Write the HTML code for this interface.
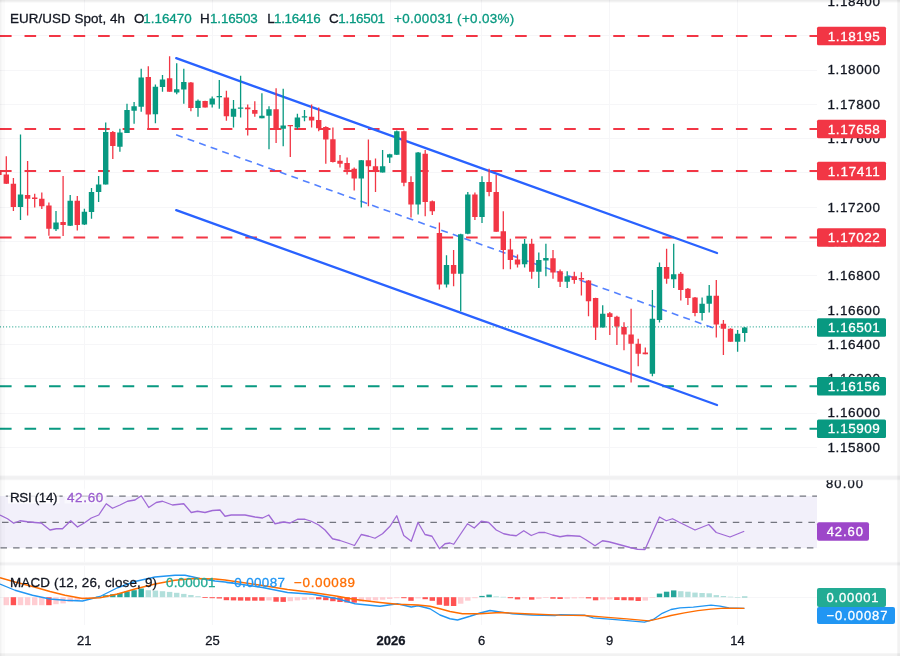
<!DOCTYPE html>
<html lang="en"><head><meta charset="utf-8"><title>EUR/USD Spot, 4h</title>
<style>html,body{margin:0;padding:0;background:#fff;}body{width:900px;height:656px;overflow:hidden;}svg{display:block;}text{font-family:"Liberation Sans", sans-serif;}</style>
</head><body>
<svg width="900" height="656" viewBox="0 0 900 656">
<rect x="0" y="0" width="900" height="656" fill="#ffffff"/>
<g stroke="#f6f6f8" stroke-width="1" shape-rendering="crispEdges">
<line x1="0" y1="35.7" x2="817" y2="35.7"/>
<line x1="0" y1="70" x2="817" y2="70"/>
<line x1="0" y1="104.3" x2="817" y2="104.3"/>
<line x1="0" y1="138.6" x2="817" y2="138.6"/>
<line x1="0" y1="172.9" x2="817" y2="172.9"/>
<line x1="0" y1="207.2" x2="817" y2="207.2"/>
<line x1="0" y1="241.5" x2="817" y2="241.5"/>
<line x1="0" y1="275.8" x2="817" y2="275.8"/>
<line x1="0" y1="310.1" x2="817" y2="310.1"/>
<line x1="0" y1="344.4" x2="817" y2="344.4"/>
<line x1="0" y1="378.7" x2="817" y2="378.7"/>
<line x1="0" y1="413" x2="817" y2="413"/>
<line x1="0" y1="447.3" x2="817" y2="447.3"/>
<line x1="84.5" y1="0" x2="84.5" y2="625"/>
<line x1="212.5" y1="0" x2="212.5" y2="625"/>
<line x1="390.5" y1="0" x2="390.5" y2="625"/>
<line x1="481.5" y1="0" x2="481.5" y2="625"/>
<line x1="609.5" y1="0" x2="609.5" y2="625"/>
<line x1="737.5" y1="0" x2="737.5" y2="625"/>
<line x1="0" y1="597.5" x2="817" y2="597.5"/>
</g>
<line x1="0" y1="36" x2="817" y2="36" stroke="#f23645" stroke-width="2.2" stroke-dasharray="11.6 12.93"/>
<line x1="0" y1="129" x2="817" y2="129" stroke="#f23645" stroke-width="2.2" stroke-dasharray="11.6 12.93"/>
<line x1="0" y1="171" x2="817" y2="171" stroke="#f23645" stroke-width="2.2" stroke-dasharray="11.6 12.93"/>
<line x1="0" y1="237.5" x2="817" y2="237.5" stroke="#f23645" stroke-width="2.2" stroke-dasharray="11.6 12.93"/>
<line x1="0" y1="386.25" x2="817" y2="386.25" stroke="#089981" stroke-width="2.2" stroke-dasharray="11.6 12.93"/>
<line x1="0" y1="428.75" x2="817" y2="428.75" stroke="#089981" stroke-width="2.2" stroke-dasharray="11.6 12.93"/>
<line x1="0" y1="326.9" x2="817" y2="326.9" stroke="#089981" stroke-width="1" stroke-dasharray="1 2.06"/>
<line x1="176.2" y1="58.2" x2="717" y2="253" stroke="#2962ff" stroke-width="2.3" stroke-linecap="round"/>
<line x1="176.2" y1="210.2" x2="717" y2="405" stroke="#2962ff" stroke-width="2.3" stroke-linecap="round"/>
<line x1="176.1" y1="134.8" x2="717" y2="329.3" stroke="#2962ff" stroke-width="1.6" stroke-dasharray="7 5.25" opacity="0.8"/>
<g>
<rect x="-3.4" y="171" width="5" height="4" fill="#f23645"/>
<rect x="5.65" y="156.25" width="1.3" height="27.75" fill="#f23645"/>
<rect x="3.6" y="174.5" width="5.4" height="9.25" fill="#f23645"/>
<rect x="12.75" y="178" width="1.3" height="33" fill="#f23645"/>
<rect x="10.7" y="183.75" width="5.4" height="23.25" fill="#f23645"/>
<rect x="19.85" y="134.5" width="1.3" height="85.5" fill="#089981"/>
<rect x="17.8" y="194.5" width="5.4" height="12.5" fill="#089981"/>
<rect x="26.95" y="161" width="1.3" height="54.5" fill="#f23645"/>
<rect x="24.9" y="195" width="5.4" height="3.75" fill="#f23645"/>
<rect x="34.05" y="193.75" width="1.3" height="13.75" fill="#f23645"/>
<rect x="32" y="197.5" width="5.4" height="1.5" fill="#f23645"/>
<rect x="41.15" y="192.5" width="1.3" height="16.5" fill="#f23645"/>
<rect x="39.1" y="198.75" width="5.4" height="7.5" fill="#f23645"/>
<rect x="48.25" y="202.5" width="1.3" height="33.25" fill="#f23645"/>
<rect x="46.2" y="205.5" width="5.4" height="23.25" fill="#f23645"/>
<rect x="55.35" y="211" width="1.3" height="20" fill="#089981"/>
<rect x="53.3" y="222.5" width="5.4" height="6.75" fill="#089981"/>
<rect x="62.45" y="176" width="1.3" height="60" fill="#f23645"/>
<rect x="60.4" y="222" width="5.4" height="3" fill="#f23645"/>
<rect x="69.55" y="195" width="1.3" height="31" fill="#089981"/>
<rect x="67.5" y="200.75" width="5.4" height="25" fill="#089981"/>
<rect x="76.65" y="196" width="1.3" height="34.5" fill="#f23645"/>
<rect x="74.6" y="200.75" width="5.4" height="24.25" fill="#f23645"/>
<rect x="83.75" y="208.75" width="1.3" height="16.25" fill="#089981"/>
<rect x="81.7" y="211.75" width="5.4" height="12.75" fill="#089981"/>
<rect x="90.85" y="188" width="1.3" height="30.75" fill="#089981"/>
<rect x="88.8" y="192" width="5.4" height="20" fill="#089981"/>
<rect x="97.95" y="176" width="1.3" height="26" fill="#089981"/>
<rect x="95.9" y="184.5" width="5.4" height="7.5" fill="#089981"/>
<rect x="105.05" y="122.5" width="1.3" height="62" fill="#089981"/>
<rect x="103" y="132" width="5.4" height="52.5" fill="#089981"/>
<rect x="112.15" y="131" width="1.3" height="28" fill="#f23645"/>
<rect x="110.1" y="132" width="5.4" height="14" fill="#f23645"/>
<rect x="119.25" y="128.75" width="1.3" height="23" fill="#089981"/>
<rect x="117.2" y="132.5" width="5.4" height="14.25" fill="#089981"/>
<rect x="126.35" y="103.75" width="1.3" height="29.25" fill="#089981"/>
<rect x="124.3" y="110" width="5.4" height="23" fill="#089981"/>
<rect x="133.45" y="102" width="1.3" height="21.75" fill="#089981"/>
<rect x="131.4" y="106.25" width="5.4" height="4.5" fill="#089981"/>
<rect x="140.55" y="68.75" width="1.3" height="43" fill="#089981"/>
<rect x="138.5" y="77.5" width="5.4" height="29.25" fill="#089981"/>
<rect x="147.65" y="66.25" width="1.3" height="63.75" fill="#f23645"/>
<rect x="145.6" y="77" width="5.4" height="37.5" fill="#f23645"/>
<rect x="154.75" y="84.5" width="1.3" height="38.75" fill="#089981"/>
<rect x="152.7" y="86.75" width="5.4" height="27.5" fill="#089981"/>
<rect x="161.85" y="75" width="1.3" height="16.75" fill="#089981"/>
<rect x="159.8" y="79.5" width="5.4" height="7.5" fill="#089981"/>
<rect x="168.95" y="56.25" width="1.3" height="35.5" fill="#f23645"/>
<rect x="166.9" y="78.25" width="5.4" height="13.5" fill="#f23645"/>
<rect x="176.05" y="63.25" width="1.3" height="31" fill="#089981"/>
<rect x="174" y="89.25" width="5.4" height="3.25" fill="#089981"/>
<rect x="183.15" y="68.75" width="1.3" height="35" fill="#089981"/>
<rect x="181.1" y="82" width="5.4" height="7.5" fill="#089981"/>
<rect x="190.25" y="82" width="1.3" height="29.25" fill="#f23645"/>
<rect x="188.2" y="82.5" width="5.4" height="25.5" fill="#f23645"/>
<rect x="197.35" y="99.5" width="1.3" height="17.25" fill="#089981"/>
<rect x="195.3" y="100.75" width="5.4" height="7.25" fill="#089981"/>
<rect x="204.45" y="100.75" width="1.3" height="6.75" fill="#f23645"/>
<rect x="202.4" y="101" width="5.4" height="6.5" fill="#f23645"/>
<rect x="211.55" y="96.5" width="1.3" height="11" fill="#089981"/>
<rect x="209.5" y="98.5" width="5.4" height="6" fill="#089981"/>
<rect x="218.65" y="80" width="1.3" height="28.75" fill="#089981"/>
<rect x="216.6" y="96" width="5.4" height="1.25" fill="#089981"/>
<rect x="225.75" y="90.75" width="1.3" height="30" fill="#f23645"/>
<rect x="223.7" y="97.5" width="5.4" height="18.75" fill="#f23645"/>
<rect x="232.85" y="100" width="1.3" height="27.5" fill="#089981"/>
<rect x="230.8" y="108.75" width="5.4" height="8" fill="#089981"/>
<rect x="239.95" y="75.75" width="1.3" height="41.75" fill="#089981"/>
<rect x="237.9" y="107.5" width="5.4" height="1.25" fill="#089981"/>
<rect x="247.05" y="104.5" width="1.3" height="31" fill="#f23645"/>
<rect x="245" y="107.5" width="5.4" height="1.75" fill="#f23645"/>
<rect x="254.15" y="101.25" width="1.3" height="15.5" fill="#f23645"/>
<rect x="252.1" y="110" width="5.4" height="3.75" fill="#f23645"/>
<rect x="261.25" y="93.25" width="1.3" height="25" fill="#089981"/>
<rect x="259.2" y="115.75" width="5.4" height="2.5" fill="#089981"/>
<rect x="268.35" y="106.25" width="1.3" height="43" fill="#089981"/>
<rect x="266.3" y="109.25" width="5.4" height="6.5" fill="#089981"/>
<rect x="275.45" y="88.25" width="1.3" height="54.75" fill="#f23645"/>
<rect x="273.4" y="109.25" width="5.4" height="19.5" fill="#f23645"/>
<rect x="282.55" y="88.75" width="1.3" height="57.5" fill="#089981"/>
<rect x="280.5" y="125.5" width="5.4" height="3.25" fill="#089981"/>
<rect x="289.65" y="125" width="1.3" height="32" fill="#f23645"/>
<rect x="287.6" y="125" width="5.4" height="1.25" fill="#f23645"/>
<rect x="296.75" y="113.75" width="1.3" height="15.5" fill="#089981"/>
<rect x="294.7" y="117.5" width="5.4" height="10" fill="#089981"/>
<rect x="303.85" y="110" width="1.3" height="11.25" fill="#089981"/>
<rect x="301.8" y="116.25" width="5.4" height="1.25" fill="#089981"/>
<rect x="310.95" y="104.5" width="1.3" height="23" fill="#f23645"/>
<rect x="308.9" y="116.75" width="5.4" height="3.75" fill="#f23645"/>
<rect x="318.05" y="107.5" width="1.3" height="23.75" fill="#f23645"/>
<rect x="316" y="120" width="5.4" height="8.25" fill="#f23645"/>
<rect x="325.15" y="126.25" width="1.3" height="37.5" fill="#f23645"/>
<rect x="323.1" y="127" width="5.4" height="12.5" fill="#f23645"/>
<rect x="332.25" y="127.5" width="1.3" height="35" fill="#f23645"/>
<rect x="330.2" y="139.25" width="5.4" height="22.75" fill="#f23645"/>
<rect x="339.35" y="155" width="1.3" height="12.5" fill="#f23645"/>
<rect x="337.3" y="160.75" width="5.4" height="3" fill="#f23645"/>
<rect x="346.45" y="157.5" width="1.3" height="17" fill="#f23645"/>
<rect x="344.4" y="163" width="5.4" height="6.75" fill="#f23645"/>
<rect x="353.55" y="167.5" width="1.3" height="23" fill="#f23645"/>
<rect x="351.5" y="168.75" width="5.4" height="9.75" fill="#f23645"/>
<rect x="360.65" y="160" width="1.3" height="47.5" fill="#089981"/>
<rect x="358.6" y="160.25" width="5.4" height="18.25" fill="#089981"/>
<rect x="367.75" y="139.5" width="1.3" height="66.75" fill="#f23645"/>
<rect x="365.7" y="160.25" width="5.4" height="6" fill="#f23645"/>
<rect x="374.85" y="158.5" width="1.3" height="33.5" fill="#f23645"/>
<rect x="372.8" y="166.25" width="5.4" height="5.5" fill="#f23645"/>
<rect x="381.95" y="150" width="1.3" height="22.5" fill="#089981"/>
<rect x="379.9" y="166.25" width="5.4" height="6.25" fill="#089981"/>
<rect x="389.05" y="153.75" width="1.3" height="9.25" fill="#089981"/>
<rect x="387" y="154.25" width="5.4" height="3.25" fill="#089981"/>
<rect x="396.15" y="130.5" width="1.3" height="24.5" fill="#089981"/>
<rect x="394.1" y="131.25" width="5.4" height="23.5" fill="#089981"/>
<rect x="403.25" y="130.5" width="1.3" height="55.75" fill="#f23645"/>
<rect x="401.2" y="131.25" width="5.4" height="51.5" fill="#f23645"/>
<rect x="410.35" y="176.25" width="1.3" height="41.25" fill="#f23645"/>
<rect x="408.3" y="182" width="5.4" height="22.5" fill="#f23645"/>
<rect x="417.45" y="152" width="1.3" height="62.5" fill="#089981"/>
<rect x="415.4" y="152.5" width="5.4" height="52" fill="#089981"/>
<rect x="424.55" y="150" width="1.3" height="66.25" fill="#f23645"/>
<rect x="422.5" y="153.75" width="5.4" height="48.25" fill="#f23645"/>
<rect x="431.65" y="200.5" width="1.3" height="14.5" fill="#f23645"/>
<rect x="429.6" y="201.25" width="5.4" height="10" fill="#f23645"/>
<rect x="438.75" y="222.5" width="1.3" height="67" fill="#f23645"/>
<rect x="436.7" y="233" width="5.4" height="51.5" fill="#f23645"/>
<rect x="445.85" y="255.25" width="1.3" height="32.25" fill="#089981"/>
<rect x="443.8" y="265" width="5.4" height="19.5" fill="#089981"/>
<rect x="452.95" y="250" width="1.3" height="36.25" fill="#f23645"/>
<rect x="450.9" y="265" width="5.4" height="8.75" fill="#f23645"/>
<rect x="460.05" y="233.75" width="1.3" height="77.5" fill="#089981"/>
<rect x="458" y="234.25" width="5.4" height="39.5" fill="#089981"/>
<rect x="467.15" y="192" width="1.3" height="42.25" fill="#089981"/>
<rect x="465.1" y="194.5" width="5.4" height="39.25" fill="#089981"/>
<rect x="474.25" y="192.5" width="1.3" height="27.5" fill="#f23645"/>
<rect x="472.2" y="194.5" width="5.4" height="22.5" fill="#f23645"/>
<rect x="481.35" y="176.25" width="1.3" height="46.75" fill="#089981"/>
<rect x="479.3" y="182" width="5.4" height="35" fill="#089981"/>
<rect x="488.45" y="168.75" width="1.3" height="27.5" fill="#f23645"/>
<rect x="486.4" y="182" width="5.4" height="10" fill="#f23645"/>
<rect x="495.55" y="175" width="1.3" height="56.75" fill="#f23645"/>
<rect x="493.5" y="192" width="5.4" height="39.75" fill="#f23645"/>
<rect x="502.65" y="211.25" width="1.3" height="58" fill="#f23645"/>
<rect x="500.6" y="231.25" width="5.4" height="18.75" fill="#f23645"/>
<rect x="509.75" y="238.75" width="1.3" height="30.5" fill="#f23645"/>
<rect x="507.7" y="249.5" width="5.4" height="10.5" fill="#f23645"/>
<rect x="516.85" y="254.5" width="1.3" height="13" fill="#f23645"/>
<rect x="514.8" y="259.5" width="5.4" height="5" fill="#f23645"/>
<rect x="523.95" y="239" width="1.3" height="28.5" fill="#089981"/>
<rect x="521.9" y="243.75" width="5.4" height="20.5" fill="#089981"/>
<rect x="531.05" y="238.75" width="1.3" height="40" fill="#f23645"/>
<rect x="529" y="243.75" width="5.4" height="28" fill="#f23645"/>
<rect x="538.15" y="252.5" width="1.3" height="35.5" fill="#089981"/>
<rect x="536.1" y="260" width="5.4" height="11.75" fill="#089981"/>
<rect x="545.25" y="243.75" width="1.3" height="32.5" fill="#089981"/>
<rect x="543.2" y="258" width="5.4" height="2.5" fill="#089981"/>
<rect x="552.35" y="250" width="1.3" height="28.75" fill="#f23645"/>
<rect x="550.3" y="258.25" width="5.4" height="14.25" fill="#f23645"/>
<rect x="559.45" y="269.5" width="1.3" height="17.5" fill="#f23645"/>
<rect x="557.4" y="271.25" width="5.4" height="10.5" fill="#f23645"/>
<rect x="566.55" y="271.25" width="1.3" height="16.75" fill="#089981"/>
<rect x="564.5" y="276.25" width="5.4" height="5.5" fill="#089981"/>
<rect x="573.65" y="271.75" width="1.3" height="12" fill="#f23645"/>
<rect x="571.6" y="276.25" width="5.4" height="3.75" fill="#f23645"/>
<rect x="580.75" y="272.25" width="1.3" height="23.25" fill="#f23645"/>
<rect x="578.7" y="278" width="5.4" height="1.5" fill="#f23645"/>
<rect x="587.85" y="280" width="1.3" height="36.25" fill="#f23645"/>
<rect x="585.8" y="280.5" width="5.4" height="20.75" fill="#f23645"/>
<rect x="594.95" y="297.75" width="1.3" height="42.25" fill="#f23645"/>
<rect x="592.9" y="298" width="5.4" height="29.5" fill="#f23645"/>
<rect x="602.05" y="305.25" width="1.3" height="22.25" fill="#089981"/>
<rect x="600" y="313.75" width="5.4" height="13.75" fill="#089981"/>
<rect x="609.15" y="312" width="1.3" height="23" fill="#f23645"/>
<rect x="607.1" y="313.25" width="5.4" height="3.75" fill="#f23645"/>
<rect x="616.25" y="315.75" width="1.3" height="29.25" fill="#f23645"/>
<rect x="614.2" y="316.75" width="5.4" height="9.75" fill="#f23645"/>
<rect x="623.35" y="322.25" width="1.3" height="28" fill="#f23645"/>
<rect x="621.3" y="327" width="5.4" height="7.5" fill="#f23645"/>
<rect x="630.45" y="308.75" width="1.3" height="73.75" fill="#f23645"/>
<rect x="628.4" y="334.5" width="5.4" height="9.25" fill="#f23645"/>
<rect x="637.55" y="338.75" width="1.3" height="27.5" fill="#f23645"/>
<rect x="635.5" y="343.75" width="5.4" height="10" fill="#f23645"/>
<rect x="644.65" y="347.5" width="1.3" height="6.75" fill="#f23645"/>
<rect x="642.6" y="352.5" width="5.4" height="1.75" fill="#f23645"/>
<rect x="651.75" y="290" width="1.3" height="86.25" fill="#089981"/>
<rect x="649.7" y="318.75" width="5.4" height="55" fill="#089981"/>
<rect x="658.85" y="262.5" width="1.3" height="60" fill="#089981"/>
<rect x="656.8" y="267" width="5.4" height="53" fill="#089981"/>
<rect x="665.95" y="248.75" width="1.3" height="35" fill="#f23645"/>
<rect x="663.9" y="267" width="5.4" height="11.75" fill="#f23645"/>
<rect x="673.05" y="243.75" width="1.3" height="44.25" fill="#089981"/>
<rect x="671" y="274.25" width="5.4" height="5" fill="#089981"/>
<rect x="680.15" y="272" width="1.3" height="28.5" fill="#f23645"/>
<rect x="678.1" y="273.75" width="5.4" height="16.25" fill="#f23645"/>
<rect x="687.25" y="288" width="1.3" height="17" fill="#f23645"/>
<rect x="685.2" y="288.75" width="5.4" height="9.25" fill="#f23645"/>
<rect x="694.35" y="297" width="1.3" height="19.25" fill="#f23645"/>
<rect x="692.3" y="297.5" width="5.4" height="15.5" fill="#f23645"/>
<rect x="701.45" y="297.5" width="1.3" height="23" fill="#089981"/>
<rect x="699.4" y="303.75" width="5.4" height="9.25" fill="#089981"/>
<rect x="708.55" y="285" width="1.3" height="27.5" fill="#089981"/>
<rect x="706.5" y="295.75" width="5.4" height="8" fill="#089981"/>
<rect x="715.65" y="280" width="1.3" height="57.5" fill="#f23645"/>
<rect x="713.6" y="295.75" width="5.4" height="28.75" fill="#f23645"/>
<rect x="722.75" y="320" width="1.3" height="35" fill="#f23645"/>
<rect x="720.7" y="323.75" width="5.4" height="5" fill="#f23645"/>
<rect x="729.85" y="328.25" width="1.3" height="13.5" fill="#f23645"/>
<rect x="727.8" y="328.75" width="5.4" height="13" fill="#f23645"/>
<rect x="736.95" y="330" width="1.3" height="21.75" fill="#089981"/>
<rect x="734.9" y="333.75" width="5.4" height="8" fill="#089981"/>
<rect x="744.05" y="327" width="1.3" height="14.75" fill="#089981"/>
<rect x="742" y="327.5" width="5.4" height="5.5" fill="#089981"/>
</g>
<text x="10" y="22.8" font-size="13.4" fill="#131722" stroke="#131722" stroke-width="0.3" textLength="115" lengthAdjust="spacing">EUR/USD Spot, 4h</text>
<text x="134" y="22.8" font-size="13.4" fill="#131722" stroke="#131722" stroke-width="0.3">O</text>
<text x="143.3" y="22.8" font-size="13.4" fill="#089981" stroke="#089981" stroke-width="0.3" textLength="48.4" lengthAdjust="spacing">1.16470</text>
<text x="200" y="22.8" font-size="13.4" fill="#131722" stroke="#131722" stroke-width="0.3">H</text>
<text x="210" y="22.8" font-size="13.4" fill="#089981" stroke="#089981" stroke-width="0.3" textLength="47.7" lengthAdjust="spacing">1.16503</text>
<text x="267.3" y="22.8" font-size="13.4" fill="#131722" stroke="#131722" stroke-width="0.3">L</text>
<text x="274" y="22.8" font-size="13.4" fill="#089981" stroke="#089981" stroke-width="0.3" textLength="46.7" lengthAdjust="spacing">1.16416</text>
<text x="329" y="22.8" font-size="13.4" fill="#131722" stroke="#131722" stroke-width="0.3">C</text>
<text x="338.3" y="22.8" font-size="13.4" fill="#089981" stroke="#089981" stroke-width="0.3" textLength="46.7" lengthAdjust="spacing">1.16501</text>
<text x="394" y="22.8" font-size="13.4" fill="#089981" stroke="#089981" stroke-width="0.3" textLength="120.3" lengthAdjust="spacing">+0.00031 (+0.03%)</text>
<rect x="817" y="0" width="83" height="656" fill="#ffffff"/>
<clipPath id="cp0"><rect x="817" y="0" width="83" height="476"/></clipPath>
<g clip-path="url(#cp0)">
<text x="827.5" y="5.8" font-size="13.5" fill="#131722" stroke="#131722" stroke-width="0.3" textLength="52.5" lengthAdjust="spacing">1.18400</text>
<text x="827.5" y="74.4" font-size="13.5" fill="#131722" stroke="#131722" stroke-width="0.3" textLength="52.5" lengthAdjust="spacing">1.18000</text>
<text x="827.5" y="108.7" font-size="13.5" fill="#131722" stroke="#131722" stroke-width="0.3" textLength="52.5" lengthAdjust="spacing">1.17800</text>
<text x="827.5" y="143" font-size="13.5" fill="#131722" stroke="#131722" stroke-width="0.3" textLength="52.5" lengthAdjust="spacing">1.17600</text>
<text x="827.5" y="177.3" font-size="13.5" fill="#131722" stroke="#131722" stroke-width="0.3" textLength="52.5" lengthAdjust="spacing">1.17400</text>
<text x="827.5" y="211.6" font-size="13.5" fill="#131722" stroke="#131722" stroke-width="0.3" textLength="52.5" lengthAdjust="spacing">1.17200</text>
<text x="827.5" y="245.9" font-size="13.5" fill="#131722" stroke="#131722" stroke-width="0.3" textLength="52.5" lengthAdjust="spacing">1.17000</text>
<text x="827.5" y="280.2" font-size="13.5" fill="#131722" stroke="#131722" stroke-width="0.3" textLength="52.5" lengthAdjust="spacing">1.16800</text>
<text x="827.5" y="314.5" font-size="13.5" fill="#131722" stroke="#131722" stroke-width="0.3" textLength="52.5" lengthAdjust="spacing">1.16600</text>
<text x="827.5" y="348.8" font-size="13.5" fill="#131722" stroke="#131722" stroke-width="0.3" textLength="52.5" lengthAdjust="spacing">1.16400</text>
<text x="827.5" y="383.1" font-size="13.5" fill="#131722" stroke="#131722" stroke-width="0.3" textLength="52.5" lengthAdjust="spacing">1.16200</text>
<text x="827.5" y="417.4" font-size="13.5" fill="#131722" stroke="#131722" stroke-width="0.3" textLength="52.5" lengthAdjust="spacing">1.16000</text>
<text x="827.5" y="451.7" font-size="13.5" fill="#131722" stroke="#131722" stroke-width="0.3" textLength="52.5" lengthAdjust="spacing">1.15800</text>
</g>
<rect x="817" y="26.75" width="69" height="18.5" rx="1.5" fill="#f23645"/>
<text x="827.8" y="40.5" font-size="13.5" fill="#ffffff" stroke="#ffffff" stroke-width="0.3" textLength="52" lengthAdjust="spacing">1.18195</text>
<rect x="817" y="119.75" width="69" height="18.5" rx="1.5" fill="#f23645"/>
<text x="827.8" y="133.5" font-size="13.5" fill="#ffffff" stroke="#ffffff" stroke-width="0.3" textLength="52" lengthAdjust="spacing">1.17658</text>
<rect x="817" y="161.75" width="69" height="18.5" rx="1.5" fill="#f23645"/>
<text x="827.8" y="175.5" font-size="13.5" fill="#ffffff" stroke="#ffffff" stroke-width="0.3" textLength="52" lengthAdjust="spacing">1.17411</text>
<rect x="817" y="228.25" width="69" height="18.5" rx="1.5" fill="#f23645"/>
<text x="827.8" y="242" font-size="13.5" fill="#ffffff" stroke="#ffffff" stroke-width="0.3" textLength="52" lengthAdjust="spacing">1.17022</text>
<rect x="817" y="377" width="69" height="18.5" rx="1.5" fill="#089981"/>
<text x="827.8" y="390.75" font-size="13.5" fill="#ffffff" stroke="#ffffff" stroke-width="0.3" textLength="52" lengthAdjust="spacing">1.16156</text>
<rect x="817" y="419.5" width="69" height="18.5" rx="1.5" fill="#089981"/>
<text x="827.8" y="433.25" font-size="13.5" fill="#ffffff" stroke="#ffffff" stroke-width="0.3" textLength="52" lengthAdjust="spacing">1.15909</text>
<rect x="817" y="318.25" width="69" height="18.5" rx="1.5" fill="#089981"/>
<text x="827.8" y="332" font-size="13.5" fill="#ffffff" stroke="#ffffff" stroke-width="0.3" textLength="52" lengthAdjust="spacing">1.16501</text>
<rect x="0" y="496" width="817" height="52" fill="#f2f0fa"/>
<line x1="-6.8" y1="496.1" x2="817" y2="496.1" stroke="#73757f" stroke-width="1.2" stroke-dasharray="6.5 6.1"/>
<line x1="-10.6" y1="522.3" x2="817" y2="522.3" stroke="#73757f" stroke-width="1.2" stroke-dasharray="6.5 6.1"/>
<line x1="-12.1" y1="547.9" x2="817" y2="547.9" stroke="#73757f" stroke-width="1.2" stroke-dasharray="6.5 6.1"/>
<polyline fill="none" stroke="#a06ad6" stroke-width="1.3" stroke-linejoin="round" points="0,515 7.5,518.75 13.75,523.25 20,520.75 27.5,521.75 35,522.5 41.25,523 50,530 56.25,528.75 62.5,528.75 70.75,520.75 77.5,527 85,522.5 91.25,518 98.75,515 106.25,503.75 112.5,508.25 120,505 127.5,501.25 135,500 141.25,495.75 148.75,507.5 156.25,502.5 162.5,501.25 172.5,505 183.75,503.75 191.25,512.5 197.5,511.25 205,512.5 212.5,510.5 220,510 225,516.25 231.25,515 245,515 255,517 262.5,518 268.75,515 275,523.75 283.75,522 290,523 297.5,519.25 305,519.25 311.25,521.25 318.75,525 325,530 332.5,538.75 340,540.5 347.5,543 354.5,545.5 361.25,534.5 368.75,536.25 375,538.25 382.5,533.75 390,526.25 396.75,515.75 403.75,535.5 411.25,541.25 418,522.5 425,534.5 432,536.25 439.5,548.75 445,543.75 450,543 453.75,544.25 467.5,523.75 474.25,528 481.25,521.25 488.75,522.5 496.25,530 503.75,533.75 510,535 516.25,535.75 523.75,530.75 531.25,535.5 538.75,532.5 545,532.5 552.5,535 560,536.75 567.5,535.5 580,536.25 586.25,540 595,545.75 602.5,540.75 608.75,541.75 616.25,543.75 630,547.5 637.5,549.25 645,549.5 659.5,517 666.25,520.75 672.5,518.75 675,520 678.75,522 695,530 708.75,524.5 716.25,532.5 730,537 744.25,531.25"/>
<rect x="8" y="488.5" width="51.5" height="15" fill="#ffffff" opacity="0.8"/>
<rect x="64.5" y="488.5" width="41" height="15" fill="#ffffff" opacity="0.55"/>
<text x="10" y="501.7" font-size="13.4" fill="#131722" stroke="#131722" stroke-width="0.3" textLength="47.5" lengthAdjust="spacing">RSI (14)</text>
<text x="67" y="501.7" font-size="13.4" fill="#9a5ccf" stroke="#9a5ccf" stroke-width="0.3" textLength="36.2" lengthAdjust="spacing">42.60</text>
<clipPath id="cp1"><rect x="817" y="478.6" width="83" height="90"/></clipPath>
<g clip-path="url(#cp1)">
<text x="826" y="487.6" font-size="13" fill="#131722" stroke="#131722" stroke-width="0.3" textLength="37" lengthAdjust="spacing">80.00</text>
</g>
<rect x="817" y="522.3" width="52" height="18.4" rx="2" fill="#9d47c9"/>
<text x="826.7" y="535.6" font-size="13" fill="#ffffff" stroke="#ffffff" stroke-width="0.3" textLength="36.3" lengthAdjust="spacing">42.60</text>
<rect x="3.6" y="597.2" width="5.4" height="8" fill="#ffcdd2"/>
<rect x="10.7" y="597.2" width="5.4" height="8" fill="#ff5252"/>
<rect x="17.8" y="597.2" width="5.4" height="8" fill="#ffcdd2"/>
<rect x="24.9" y="597.2" width="5.4" height="8" fill="#ffcdd2"/>
<rect x="32" y="597.2" width="5.4" height="8" fill="#ffcdd2"/>
<rect x="39.1" y="597.2" width="5.4" height="8" fill="#ffcdd2"/>
<rect x="46.2" y="597.2" width="5.4" height="8" fill="#ff5252"/>
<rect x="53.3" y="597.2" width="5.4" height="7" fill="#ffcdd2"/>
<rect x="60.4" y="597.2" width="5.4" height="6.2" fill="#ffcdd2"/>
<rect x="67.5" y="597.2" width="5.4" height="4.7" fill="#ffcdd2"/>
<rect x="74.6" y="597.2" width="5.4" height="3" fill="#ffcdd2"/>
<rect x="81.7" y="597.2" width="5.4" height="1.8" fill="#ffcdd2"/>
<rect x="88.8" y="597.2" width="5.4" height="0.7" fill="#ffcdd2"/>
<rect x="95.9" y="596.7" width="5.4" height="0.6" fill="#26a69a"/>
<rect x="103" y="595.2" width="5.4" height="2" fill="#26a69a"/>
<rect x="110.1" y="594.2" width="5.4" height="3" fill="#26a69a"/>
<rect x="117.2" y="593" width="5.4" height="4.2" fill="#26a69a"/>
<rect x="124.3" y="591.4" width="5.4" height="5.8" fill="#26a69a"/>
<rect x="131.4" y="590.2" width="5.4" height="7" fill="#26a69a"/>
<rect x="138.5" y="588.5" width="5.4" height="8.7" fill="#26a69a"/>
<rect x="145.6" y="590.2" width="5.4" height="7" fill="#b2dfdb"/>
<rect x="152.7" y="590.6" width="5.4" height="6.6" fill="#b2dfdb"/>
<rect x="159.8" y="591.2" width="5.4" height="6" fill="#b2dfdb"/>
<rect x="166.9" y="591.9" width="5.4" height="5.3" fill="#b2dfdb"/>
<rect x="174" y="592.8" width="5.4" height="4.4" fill="#b2dfdb"/>
<rect x="181.1" y="593.9" width="5.4" height="3.3" fill="#b2dfdb"/>
<rect x="188.2" y="595" width="5.4" height="2.2" fill="#b2dfdb"/>
<rect x="195.3" y="596.2" width="5.4" height="1" fill="#b2dfdb"/>
<rect x="202.4" y="597.2" width="5.4" height="0.8" fill="#ff5252"/>
<rect x="209.5" y="597.2" width="5.4" height="1" fill="#ff5252"/>
<rect x="216.6" y="597.2" width="5.4" height="1.3" fill="#ff5252"/>
<rect x="223.7" y="597.2" width="5.4" height="3" fill="#ff5252"/>
<rect x="230.8" y="597.2" width="5.4" height="3.2" fill="#ff5252"/>
<rect x="237.9" y="597.2" width="5.4" height="3.4" fill="#ff5252"/>
<rect x="245" y="597.2" width="5.4" height="3.5" fill="#ff5252"/>
<rect x="252.1" y="597.2" width="5.4" height="3.5" fill="#ff5252"/>
<rect x="259.2" y="597.2" width="5.4" height="3.5" fill="#ff5252"/>
<rect x="266.3" y="597.2" width="5.4" height="3.2" fill="#ffcdd2"/>
<rect x="273.4" y="597.2" width="5.4" height="4.5" fill="#ff5252"/>
<rect x="280.5" y="597.2" width="5.4" height="4.7" fill="#ff5252"/>
<rect x="287.6" y="597.2" width="5.4" height="4" fill="#ffcdd2"/>
<rect x="294.7" y="597.2" width="5.4" height="3.2" fill="#ffcdd2"/>
<rect x="301.8" y="597.2" width="5.4" height="2.7" fill="#ffcdd2"/>
<rect x="308.9" y="597.2" width="5.4" height="2.2" fill="#ffcdd2"/>
<rect x="316" y="597.2" width="5.4" height="2.2" fill="#ff5252"/>
<rect x="323.1" y="597.2" width="5.4" height="3" fill="#ff5252"/>
<rect x="330.2" y="597.2" width="5.4" height="4" fill="#ff5252"/>
<rect x="337.3" y="597.2" width="5.4" height="4.8" fill="#ff5252"/>
<rect x="344.4" y="597.2" width="5.4" height="5.3" fill="#ff5252"/>
<rect x="351.5" y="597.2" width="5.4" height="5.5" fill="#ff5252"/>
<rect x="358.6" y="597.2" width="5.4" height="4.5" fill="#ffcdd2"/>
<rect x="365.7" y="597.2" width="5.4" height="3.8" fill="#ffcdd2"/>
<rect x="372.8" y="597.2" width="5.4" height="3.2" fill="#ffcdd2"/>
<rect x="379.9" y="597.2" width="5.4" height="2.5" fill="#ffcdd2"/>
<rect x="387" y="597.2" width="5.4" height="1.8" fill="#ffcdd2"/>
<rect x="394.1" y="597.2" width="5.4" height="1" fill="#ffcdd2"/>
<rect x="401.2" y="597.2" width="5.4" height="1" fill="#ff5252"/>
<rect x="408.3" y="597.2" width="5.4" height="3.6" fill="#ff5252"/>
<rect x="415.4" y="597.2" width="5.4" height="1.2" fill="#ffcdd2"/>
<rect x="422.5" y="597.2" width="5.4" height="2" fill="#ff5252"/>
<rect x="429.6" y="597.2" width="5.4" height="3.6" fill="#ff5252"/>
<rect x="436.7" y="597.2" width="5.4" height="7.6" fill="#ff5252"/>
<rect x="443.8" y="597.2" width="5.4" height="8.6" fill="#ff5252"/>
<rect x="450.9" y="597.2" width="5.4" height="8.8" fill="#ff5252"/>
<rect x="458" y="597.2" width="5.4" height="6.5" fill="#ffcdd2"/>
<rect x="465.1" y="597.2" width="5.4" height="3.5" fill="#ffcdd2"/>
<rect x="472.2" y="597.2" width="5.4" height="1" fill="#ffcdd2"/>
<rect x="479.3" y="595.9" width="5.4" height="1.3" fill="#26a69a"/>
<rect x="486.4" y="594.6" width="5.4" height="2.6" fill="#26a69a"/>
<rect x="493.5" y="596.4" width="5.4" height="0.8" fill="#b2dfdb"/>
<rect x="500.6" y="596.8" width="5.4" height="0.6" fill="#b2dfdb"/>
<rect x="507.7" y="597.2" width="5.4" height="1" fill="#ff5252"/>
<rect x="514.8" y="597.2" width="5.4" height="2.2" fill="#ff5252"/>
<rect x="521.9" y="597.2" width="5.4" height="1" fill="#ffcdd2"/>
<rect x="529" y="597.2" width="5.4" height="2.5" fill="#ff5252"/>
<rect x="536.1" y="597.2" width="5.4" height="1.6" fill="#ffcdd2"/>
<rect x="543.2" y="597.2" width="5.4" height="0.8" fill="#ffcdd2"/>
<rect x="550.3" y="597.2" width="5.4" height="1.5" fill="#ff5252"/>
<rect x="557.4" y="597.2" width="5.4" height="1.8" fill="#ff5252"/>
<rect x="564.5" y="597.2" width="5.4" height="1.5" fill="#ffcdd2"/>
<rect x="571.6" y="597.2" width="5.4" height="1.2" fill="#ffcdd2"/>
<rect x="578.7" y="597.2" width="5.4" height="1" fill="#ffcdd2"/>
<rect x="585.8" y="597.2" width="5.4" height="1.2" fill="#ff5252"/>
<rect x="592.9" y="597.2" width="5.4" height="3.1" fill="#ff5252"/>
<rect x="600" y="597.2" width="5.4" height="2.4" fill="#ffcdd2"/>
<rect x="607.1" y="597.2" width="5.4" height="2.1" fill="#ffcdd2"/>
<rect x="614.2" y="597.2" width="5.4" height="2.8" fill="#ff5252"/>
<rect x="621.3" y="597.2" width="5.4" height="3" fill="#ff5252"/>
<rect x="628.4" y="597.2" width="5.4" height="3.2" fill="#ff5252"/>
<rect x="635.5" y="597.2" width="5.4" height="3.8" fill="#ff5252"/>
<rect x="642.6" y="597.2" width="5.4" height="3.4" fill="#ffcdd2"/>
<rect x="649.7" y="597.2" width="5.4" height="0.6" fill="#ffcdd2"/>
<rect x="656.8" y="593.6" width="5.4" height="3.6" fill="#26a69a"/>
<rect x="663.9" y="591.7" width="5.4" height="5.5" fill="#26a69a"/>
<rect x="671" y="590.4" width="5.4" height="6.8" fill="#26a69a"/>
<rect x="678.1" y="591.2" width="5.4" height="6" fill="#b2dfdb"/>
<rect x="685.2" y="591.7" width="5.4" height="5.5" fill="#b2dfdb"/>
<rect x="692.3" y="592.6" width="5.4" height="4.6" fill="#b2dfdb"/>
<rect x="699.4" y="593" width="5.4" height="4.2" fill="#b2dfdb"/>
<rect x="706.5" y="593.3" width="5.4" height="3.9" fill="#b2dfdb"/>
<rect x="713.6" y="595.1" width="5.4" height="2.1" fill="#b2dfdb"/>
<rect x="720.7" y="596" width="5.4" height="1.2" fill="#b2dfdb"/>
<rect x="727.8" y="596.7" width="5.4" height="0.6" fill="#b2dfdb"/>
<rect x="734.9" y="597" width="5.4" height="0.6" fill="#b2dfdb"/>
<rect x="742" y="596.7" width="5.4" height="0.6" fill="#26a69a"/>
<polyline fill="none" stroke="#2196f3" stroke-width="1.35" stroke-linejoin="round" points="0,584 15,590.25 32.5,595.25 50,599 65,600.25 82.5,601 100,596.5 117.5,587.75 135,581.5 155,577 175,575.25 185,575.25 200,578.5 215,581 225,582 262.5,587.5 287.5,592.5 312.5,594.25 337.5,598.75 355,603.75 380,606.25 397.5,603.75 411.25,607 418,605.75 430,608.75 440,615 450,618.75 457.5,620 470,616.25 480,613 490,610.5 500,612 512.5,613.75 532.5,615 555,615.5 560,614.6 584.4,615.2 593.3,617.8 615.5,619.6 644.4,622.2 653.3,619.5 662.2,613.3 671,609.5 680,607.8 693.3,607.1 711,605.1 720,606.2 729,608 744.4,608.4"/>
<polyline fill="none" stroke="#ff6d00" stroke-width="1.35" stroke-linejoin="round" points="0,577.75 15,582 32.5,586.5 50,591.5 65,595.25 82.5,598.5 100,597.75 117.5,594 135,589 155,584 175,580.25 195,578.5 215,579 225,580 262.5,585.5 287.5,589.5 312.5,592.5 337.5,596.25 355,599.5 380,602.5 397.5,604.25 418,605 430,606.25 440,608.75 450,611.5 462.5,613.75 480,613.75 500,612.5 525,613.75 560,615.1 584.4,615.5 604.4,617.1 626.7,618.9 648.9,620.8 657.8,618.9 671,615.5 684.4,612.9 697.8,610.7 711,609.1 724.4,608.2 744.4,608.4"/>
<text x="10" y="587" font-size="13.4" fill="#131722" stroke="#131722" stroke-width="0.3" textLength="147" lengthAdjust="spacing">MACD (12, 26, close, 9)</text>
<text x="166" y="587" font-size="13.4" fill="#22ab94" stroke="#22ab94" stroke-width="0.3" textLength="49.5" lengthAdjust="spacing">0.00001</text>
<text x="226" y="587" font-size="13.4" fill="#2196f3" stroke="#2196f3" stroke-width="0.3" textLength="59" lengthAdjust="spacing">−0.00087</text>
<text x="294" y="587" font-size="13.4" fill="#ff6d00" stroke="#ff6d00" stroke-width="0.3" textLength="61" lengthAdjust="spacing">−0.00089</text>
<rect x="817" y="588" width="69" height="19" rx="2" fill="#22ab94"/>
<text x="826.5" y="602.2" font-size="13" fill="#ffffff" stroke="#ffffff" stroke-width="0.3" textLength="52" lengthAdjust="spacing">0.00001</text>
<rect x="817" y="607" width="78" height="17" rx="2" fill="#2196f3"/>
<text x="826.5" y="620.4" font-size="13" fill="#ffffff" stroke="#ffffff" stroke-width="0.3" textLength="61" lengthAdjust="spacing">−0.00087</text>
<rect x="0" y="475.3" width="900" height="5" fill="#f8f8f9"/>
<rect x="0" y="476.2" width="900" height="3.2" fill="#f1f1f2"/>
<rect x="0" y="561.8" width="900" height="4" fill="#f9f9fa"/>
<rect x="0" y="562.7" width="900" height="2.2" fill="#f2f2f3"/>
<rect x="0" y="625" width="900" height="31" fill="#ffffff"/>
<text x="84.3" y="645.4" font-size="13" fill="#131722" stroke="#131722" stroke-width="0.3" text-anchor="middle">21</text>
<text x="212.5" y="645.4" font-size="13" fill="#131722" stroke="#131722" stroke-width="0.3" text-anchor="middle">25</text>
<text x="391" y="645.4" font-size="13" fill="#131722" stroke="#131722" stroke-width="0.3" text-anchor="middle" font-weight="bold">2026</text>
<text x="481.5" y="645.4" font-size="13" fill="#131722" stroke="#131722" stroke-width="0.3" text-anchor="middle">6</text>
<text x="609.5" y="645.4" font-size="13" fill="#131722" stroke="#131722" stroke-width="0.3" text-anchor="middle">9</text>
<text x="737.5" y="645.4" font-size="13" fill="#131722" stroke="#131722" stroke-width="0.3" text-anchor="middle">14</text>
<g fill="#000000">
<rect x="0" y="0" width="900" height="1.5" opacity="0.075"/>
<rect x="0" y="1.5" width="900" height="1.2" opacity="0.03"/>
<rect x="0" y="0" width="1.5" height="656" opacity="0.05"/>
<rect x="1.5" y="0" width="3.5" height="656" opacity="0.015"/>
<rect x="897.3" y="0" width="2.7" height="656" opacity="0.05"/>
<rect x="0" y="653.3" width="900" height="2.7" opacity="0.05"/>
</g>
</svg>
</body></html>
